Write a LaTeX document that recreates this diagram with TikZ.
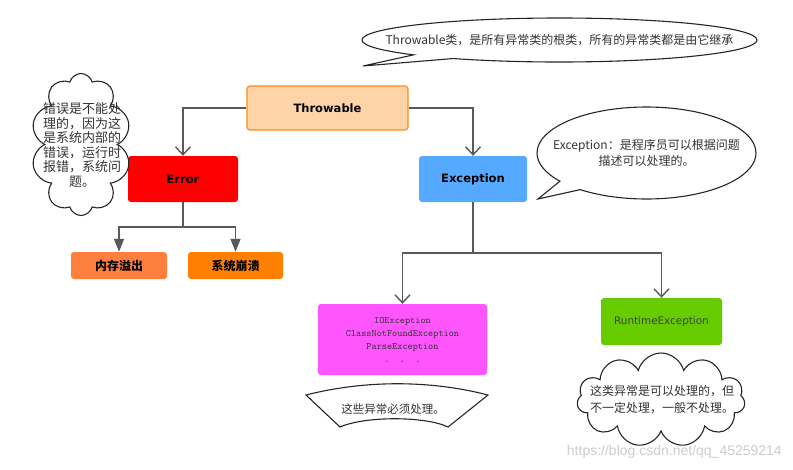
\documentclass[tikz,border=0pt]{standalone}
\usepackage{fontspec}
\setmainfont{Noto Sans CJK SC}
\newfontfamily\boxfont{DejaVu Sans}
\newfontfamily\markfont{Liberation Sans}
\usetikzlibrary{arrows.meta,shapes.symbols,shapes.callouts}

\definecolor{peach}{HTML}{FFD3A8}
\definecolor{peachline}{HTML}{FF8C1A}
\definecolor{errred}{HTML}{FF0000}
\definecolor{excblue}{HTML}{55AAFF}
\definecolor{oomorange}{HTML}{FF7F3F}
\definecolor{crashorange}{HTML}{FF8000}
\definecolor{chkmagenta}{HTML}{FF55FF}
\definecolor{rtgreen}{HTML}{66CC00}

\begin{document}
\begin{tikzpicture}[x=1pt,y=-1pt,
    line/.style={draw=black!65, line width=1.4pt},
    open/.style={-{Straight Barb[length=8pt,width=15pt]}},
    tri/.style={-{Triangle[length=13pt,width=10pt]}},
    box/.style={rounded corners=3pt, inner sep=0pt, align=center},
    bold/.style={font=\boxfont\bfseries\fontsize{11.5}{13}\selectfont},
    cjkbold/.style={font=\bfseries\fontsize{12}{13}\selectfont},
    note/.style={draw=black!85, line width=1.1pt, fill=white, inner sep=0pt, text=black!80, align=center}
]
    \useasboundingbox (0,0) rectangle (793,469);

    % boxes
    \node[box, bold, fill=peach, draw=peachline, line width=1.2pt, minimum width=161pt, minimum height=44pt] at (327.5,108) (thr) {Throwable};
    \node[box, bold, fill=errred, minimum width=110pt, minimum height=46pt] at (183,179) (err) {Error};
    \node[box, bold, fill=excblue, minimum width=108pt, minimum height=46pt] at (473,179) (exc) {Exception};
    \node[box, cjkbold, fill=oomorange, minimum width=96pt, minimum height=27pt] at (119,265.5) (oom) {内存溢出};
    \node[box, cjkbold, fill=crashorange, minimum width=95pt, minimum height=27pt] at (235.5,265.5) (crash) {系统崩溃};
    \node[box, fill=chkmagenta, minimum width=169pt, minimum height=71pt, text=black!80,
          font=\ttfamily\fontsize{9.8}{13}\selectfont] at (402.5,339.5) (io)
          {IOException\\ClassNotFoundException\\ParseException\\.\ \ .\ \ .};
    \node[box, fill=rtgreen, minimum width=121pt, minimum height=47pt, text=black!75,
          font=\boxfont\fontsize{10.4}{12}\selectfont] at (661.5,321.5) (rt) {RuntimeException};

    % connectors
    \coordinate (errfork) at (183,227);
    \coordinate (excfork) at (473,253);
    \draw[line,open] (thr.west) -| (err.north);
    \draw[line,open] (thr.east) -| (exc.north);
    \draw[line] (err.south) -- (errfork);
    \draw[line,tri] (errfork) -| (oom.north);
    \draw[line,tri] (errfork) -| (crash.north);
    \draw[line] (exc.south) -- (excfork);
    \draw[line,open] (excfork) -| (io.north);
    \draw[line,open] (excfork) -| (rt.north);

    % notes
    \coordinate (thrtip) at (363,66);
    \coordinate (exctip) at (538,199);
    \node[note, ellipse callout, callout absolute pointer={(thrtip)}, inner xsep=-40pt,
          minimum width=395pt, minimum height=44pt,
          font=\fontsize{12}{13}\selectfont] at (559.5,40) (thrnote)
          {Throwable类，是所有异常类的根类，所有的异常类都是由它继承};
    \node[note, ellipse callout, callout absolute pointer={(exctip)}, inner xsep=-20pt,
          minimum width=219pt, minimum height=92pt,
          font=\fontsize{12}{15.5}\selectfont] at (646.5,153) (excnote)
          {Exception：是程序员可以根据问题\\描述可以处理的。};
    \node[note, cloud, cloud puffs=10, cloud ignores aspect, minimum width=100pt, minimum height=142pt] at (81,144.5) (errcloud) {};
    \node[align=center, text=black!80, inner sep=0pt, font=\fontsize{13}{14.5}\selectfont] at (82,145) (errnote)
          {错误是不能处\\理的，因为这\\是系统内部的\\错误，运行时\\报错，系统问\\题。};
    \node[note, cloud, cloud puffs=11, cloud ignores aspect, minimum width=168pt, minimum height=94pt] at (661,400) (rtcloud) {};
    \node[align=center, text=black!80, inner sep=0pt, font=\fontsize{12}{17}\selectfont] at (662,400) (rtnote)
          {这类异常是可以处理的，但\\不一定处理，一般不处理。};
    \draw[note] (306,395) .. controls (365,380) and (430,380) .. (488,395)
        -- (448,427) .. controls (425,416) and (365,416) .. (340,427) -- cycle;
    \node[text=black!80, inner sep=0pt, font=\fontsize{11.5}{13}\selectfont] at (393,409) (ionote) {这些异常必须处理。};

    % watermark
    \node[anchor=east, inner sep=0pt, text=black!20, font=\markfont\fontsize{14}{14}\selectfont] at (782,452) (mark)
          {https://blog.csdn.net/qq\_45259214};
\end{tikzpicture}
\end{document}
